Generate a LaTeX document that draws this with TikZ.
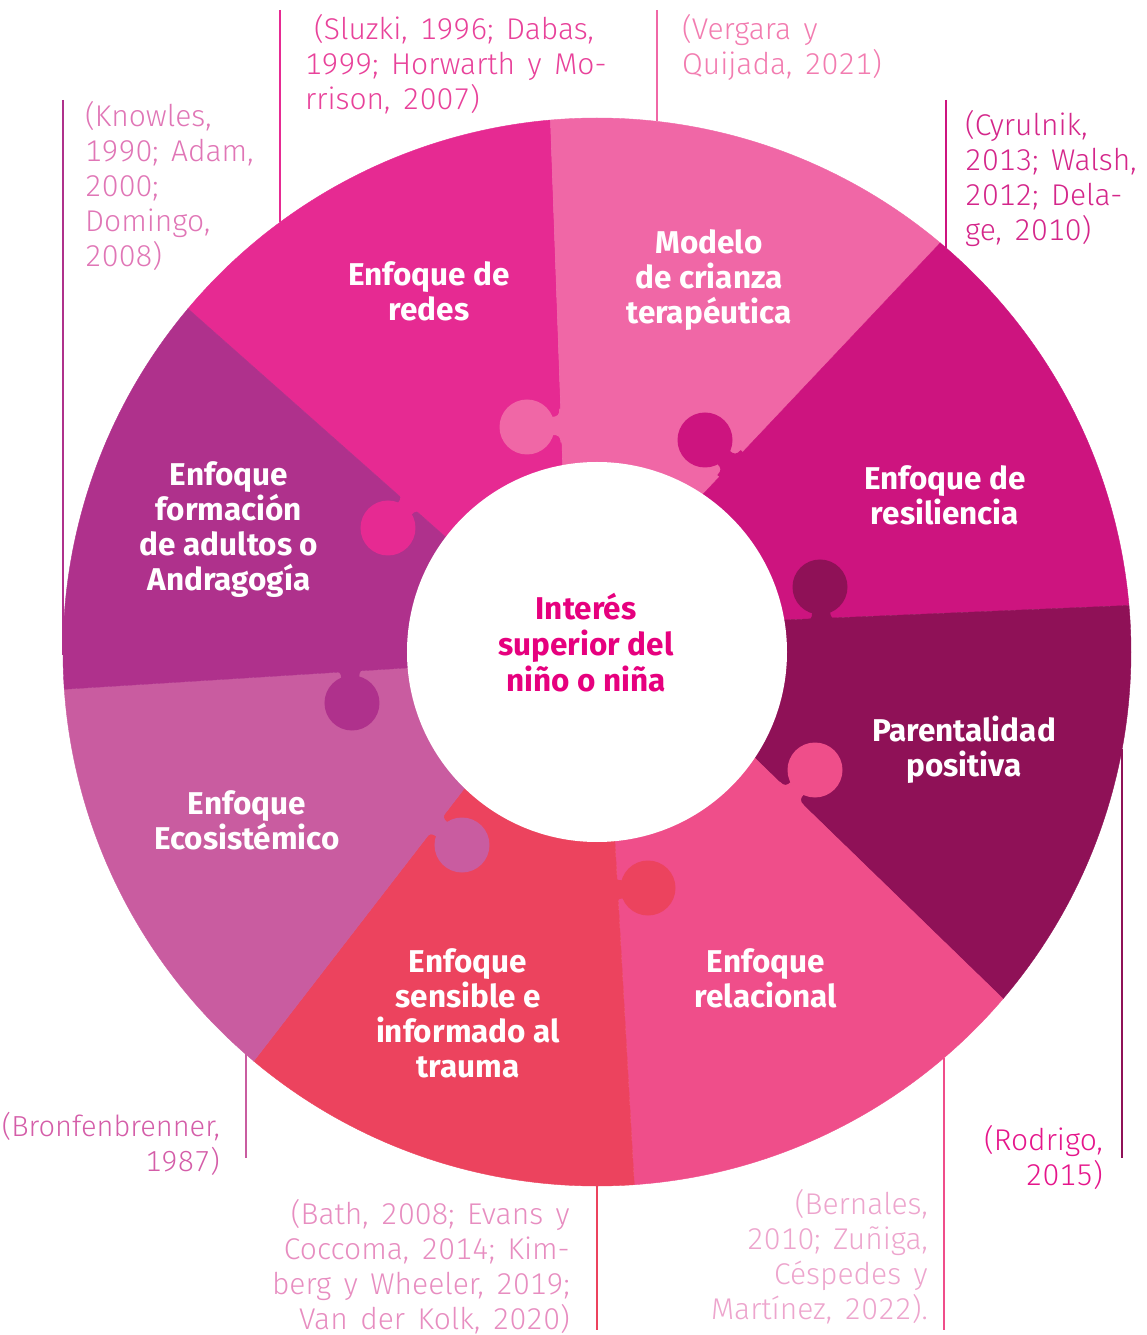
\documentclass[tikz,border=0pt]{standalone}
\usepackage{fontspec}
\setmainfont{Fira Sans}
\newfontfamily\citefont[WordSpace=1.5, Numbers=Monospaced]{Fira Sans Light}
\usetikzlibrary{positioning,calc}

\definecolor{redes}{HTML}{E62A92}
\definecolor{modelo}{HTML}{F067A6}
\definecolor{resil}{HTML}{CD147F}
\definecolor{parent}{HTML}{8F1157}
\definecolor{relac}{HTML}{EF4E8A}
\definecolor{sens}{HTML}{EC435E}
\definecolor{eco}{HTML}{C95CA0}
\definecolor{form}{HTML}{AF318C}
\definecolor{centro}{HTML}{E6007E}

\tikzset{
  piecetext/.style={text=white, align=center, inner sep=0pt,
    font=\fontsize{31.5}{35}\selectfont\bfseries},
  reftext/.style={inner sep=0pt, font=\citefont\fontsize{30}{35}\selectfont},
  leader/.style={line width=2.6pt},
}

\begin{document}
\begin{tikzpicture}[x=1pt,y=1pt]
  \useasboundingbox (-597,-683) rectangle (549,652);

  % puzzle pieces, clockwise from the top left
  \foreach \oa/\ia/\ob/\ib/\c in {140/142.8/95/100.4/redes, 95/100.4/50/56.1/modelo,
      50/56.1/5/9.7/resil, 5/9.7/-40.5/-33.9/parent, -40.5/-33.9/-86/-84.6/relac,
      -86/-84.6/-130/-134.2/sens, -130/-134.2/-176/-175.2/eco, -176/-175.2/-220/-217.2/form} {
    \filldraw[fill=\c, draw=\c, line width=0.4pt] (0,0) -- (\ia:190) -- (\oa:534)
      arc[start angle=\oa, end angle=\ob, radius=534] -- (\ib:190) -- cycle;
  }

  % knobs
  \foreach \x/\y/\r/\c in {-70/225/182.3/modelo, 108/212/136.8/resil, 223/65/92.5/parent,
      218/-118/45.8/relac, 51/-236/3/sens, -135/-193/-37.8/eco, -245/-51/-86.3/form,
      -209/124/228.9/redes} {
    \fill[\c, shift={(\x,\y)}, rotate=\r] (-44,-17) -- (-33,-17)
      .. controls (-33,-11) and (-31,-9) .. (-25,-9) -- (-25,9)
      .. controls (-31,9) and (-33,11) .. (-33,17) -- (-44,17) -- cycle;
    \fill[\c] (\x,\y) circle (27.5);
  }

  \fill[white] (0,0) circle (190);

  \node[piecetext] (redes) at (-168,361) {Enfoque de\\redes};
  \node[piecetext] (modelo) at (112,372) {Modelo\\de crianza\\terapéutica};
  \node[piecetext] (resil) at (348,157) {Enfoque de\\resiliencia};
  \node[piecetext] (parent) at (367,-98) {Parentalidad\\positiva};
  \node[piecetext] (relac) at (169,-326) {Enfoque\\relacional};
  \node[piecetext] (sens) at (-129,-361) {Enfoque\\sensible e\\informado al\\trauma};
  \node[piecetext] (eco) at (-350,-168) {Enfoque\\Ecosistémico};
  \node[piecetext] (form) at (-368,122) {Enfoque\\formación\\de adultos o\\Andragogía};
  \node[piecetext, text=centro, font=\fontsize{31.5}{36}\selectfont\bfseries]
    (centro) at (-11,9) {Interés\\superior del\\niño o niña};

  % references and their leaders
  \coordinate (knowles top) at (-534,552);  \coordinate (knowles ring) at (-534,-3);
  \coordinate (sluzki top) at (-317,642);   \coordinate (sluzki ring) at (-317,430);
  \coordinate (vergara top) at (60,642);    \coordinate (vergara ring) at (60,531);
  \coordinate (cyrulnik top) at (349,552);  \coordinate (cyrulnik ring) at (349,404);
  \coordinate (rodrigo ring) at (525,-97);  \coordinate (rodrigo end) at (525,-506);
  \coordinate (bernales ring) at (347,-406); \coordinate (bernales end) at (347,-678);
  \coordinate (bath ring) at (0,-534);      \coordinate (bath end) at (0,-678);
  \coordinate (bronf ring) at (-351,-402);  \coordinate (bronf end) at (-351,-506);

  \draw[leader, form] (knowles top) -- (knowles ring);
  \draw[leader, redes] (sluzki top) -- (sluzki ring);
  \draw[leader, modelo] (vergara top) -- (vergara ring);
  \draw[leader, resil] (cyrulnik top) -- (cyrulnik ring);
  \draw[leader, parent] (rodrigo ring) -- (rodrigo end);
  \draw[leader, relac] (bernales ring) -- (bernales end);
  \draw[leader, sens] (bath ring) -- (bath end);
  \draw[leader, eco] (bronf ring) -- (bronf end);

  \node[reftext, text={rgb,255:red,224;green,118;blue,182}, anchor=north west, align=left]
    (knowles) at (-512,551) {(Knowles,\\1990; Adam,\\2000;\\Domingo,\\2008)};
  \node[reftext, text={rgb,255:red,232;green,66;blue,154}, anchor=north west, align=left]
    (sluzki) at (-292,638) {\hspace*{9pt}(Sluzki, 1996; Dabas,\\1999; Horwarth y Mo-\\rrison, 2007)};
  \node[reftext, text={rgb,255:red,242;green,124;blue,176}, anchor=north west, align=left]
    (vergara) at (85,638) {(Vergara y\\Quijada, 2021)};
  \node[reftext, text={rgb,255:red,212;green,38;blue,138}, anchor=north west, align=left]
    (cyrulnik) at (368,542) {(Cyrulnik,\\2013; Walsh,\\2012; Dela-\\ge, 2010)};
  \node[reftext, text={rgb,255:red,229;green,22;blue,139}, anchor=north east, align=right]
    (rodrigo) at (506,-473) {(Rodrigo,\\2015)};
  \node[reftext, text={rgb,255:red,237;green,165;blue,205}, anchor=north east, align=right]
    (bernales) at (331,-537) {(Bernales,\\2010; Zuñiga,\\Céspedes y\\Martínez, 2022).};
  \node[reftext, text={rgb,255:red,231;green,141;blue,192}, anchor=north east, align=right]
    (bath) at (-27,-547) {(Bath, 2008; Evans y\\Coccoma, 2014; Kim-\\berg y Wheeler, 2019;\\Van der Kolk, 2020)};
  \node[reftext, text={rgb,255:red,212;green,93;blue,168}, anchor=north east, align=right,
    font=\citefont\fontsize{29}{35}\selectfont]
    (bronf) at (-377,-460) {(Bronfenbrenner,\\1987)};
\end{tikzpicture}
\end{document}
